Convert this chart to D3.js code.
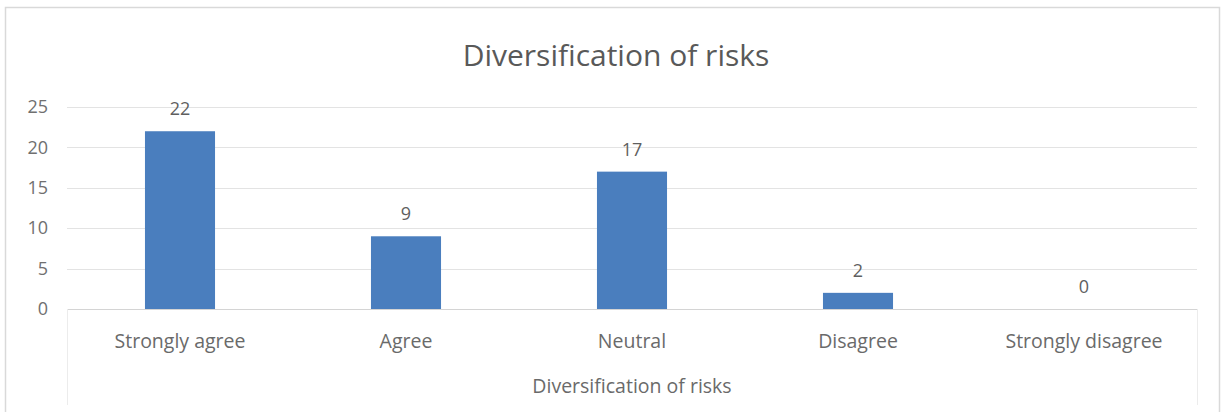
<!DOCTYPE html>
<html>
<head>
<meta charset="utf-8">
<script src="https://cdn.jsdelivr.net/npm/d3@7"></script>
<style>
  html, body { margin: 0; padding: 0; background: #fff; }
  svg { display: block; }
  text { font-family: "Open Sans", "Liberation Sans", sans-serif; }
</style>
</head>
<body>
<svg id="chart" width="1221" height="412"></svg>
<script>
// Survey responses for "Diversification of risks"
const categories = ["Strongly agree", "Agree", "Neutral", "Disagree", "Strongly disagree"];
const counts = [22, 9, 17, 2, 0];
const yTicks = [0, 5, 10, 15, 20, 25];
const chartTitle = "Diversification of risks";
const axisTitle = "Diversification of risks";

const svg = d3.select("#chart");
const plot = { left: 67, right: 1197, top: 107, bottom: 309 };

// Chart frame
svg.append("rect")
  .attr("x", 5.5).attr("y", 7.5)
  .attr("width", 1214).attr("height", 420)
  .attr("fill", "#fff")
  .attr("stroke", "#d9d9d9").attr("stroke-width", 1.5);

const x = d3.scaleBand()
  .domain(categories)
  .range([plot.left, plot.right])
  .paddingInner(0.69)
  .paddingOuter(0.345);

const y = d3.scaleLinear()
  .domain([0, 25])
  .range([plot.bottom, plot.top]);

// Horizontal gridlines
svg.append("g")
  .selectAll("line")
  .data(yTicks.filter(d => d > 0))
  .join("line")
  .attr("x1", plot.left).attr("x2", plot.right)
  .attr("y1", d => Math.round(y(d)) + 0.5)
  .attr("y2", d => Math.round(y(d)) + 0.5)
  .attr("stroke", "#e3e3e3").attr("stroke-width", 1);

// Y axis labels
const yAxis = d3.axisLeft(y).tickValues(yTicks).tickSize(0).tickPadding(0);
svg.append("g")
  .attr("transform", `translate(${plot.left - 19},0)`)
  .call(yAxis)
  .call(g => g.select(".domain").remove())
  .call(g => g.selectAll("text")
    .attr("fill", "#707070")
    .attr("font-size", 18));

// Bars
svg.append("g")
  .selectAll("rect")
  .data(categories)
  .join("rect")
  .attr("x", d => x(d))
  .attr("width", x.bandwidth())
  .attr("y", (d, i) => y(counts[i]))
  .attr("height", (d, i) => y(0) - y(counts[i]))
  .attr("fill", "#4a7ebe");

// Value labels
svg.append("g")
  .selectAll("text")
  .data(categories)
  .join("text")
  .attr("x", d => x(d) + x.bandwidth() / 2)
  .attr("y", (d, i) => y(counts[i]) - 16)
  .attr("text-anchor", "middle")
  .attr("fill", "#5f5f5f")
  .attr("font-size", 18)
  .text((d, i) => counts[i]);

// Category axis
const xAxis = d3.axisBottom(x).tickSize(0).tickPadding(0);
svg.append("g")
  .attr("transform", `translate(0,${plot.bottom})`)
  .call(xAxis)
  .call(g => g.select(".domain").remove())
  .call(g => g.selectAll("text")
    .attr("dy", 0)
    .attr("y", 39)
    .attr("fill", "#6a6a6a")
    .attr("font-size", 19.5));

// Baseline and category-axis end lines
svg.append("line")
  .attr("x1", plot.left).attr("x2", plot.right)
  .attr("y1", plot.bottom + 0.5).attr("y2", plot.bottom + 0.5)
  .attr("stroke", "#d4d4d4");
[plot.left, plot.right].forEach(px => {
  svg.append("line")
    .attr("x1", px + 0.5).attr("x2", px + 0.5)
    .attr("y1", plot.bottom).attr("y2", 405)
    .attr("stroke", "#ececec");
});

// Axis title
svg.append("text")
  .attr("x", (plot.left + plot.right) / 2)
  .attr("y", 393)
  .attr("text-anchor", "middle")
  .attr("fill", "#6a6a6a")
  .attr("font-size", 19.5)
  .text(axisTitle);

// Chart title
svg.append("text")
  .attr("x", (plot.left + plot.right) / 2 - 16)
  .attr("y", 66)
  .attr("text-anchor", "middle")
  .attr("fill", "#595959")
  .attr("font-size", 30)
  .text(chartTitle);
</script>
</body>
</html>
